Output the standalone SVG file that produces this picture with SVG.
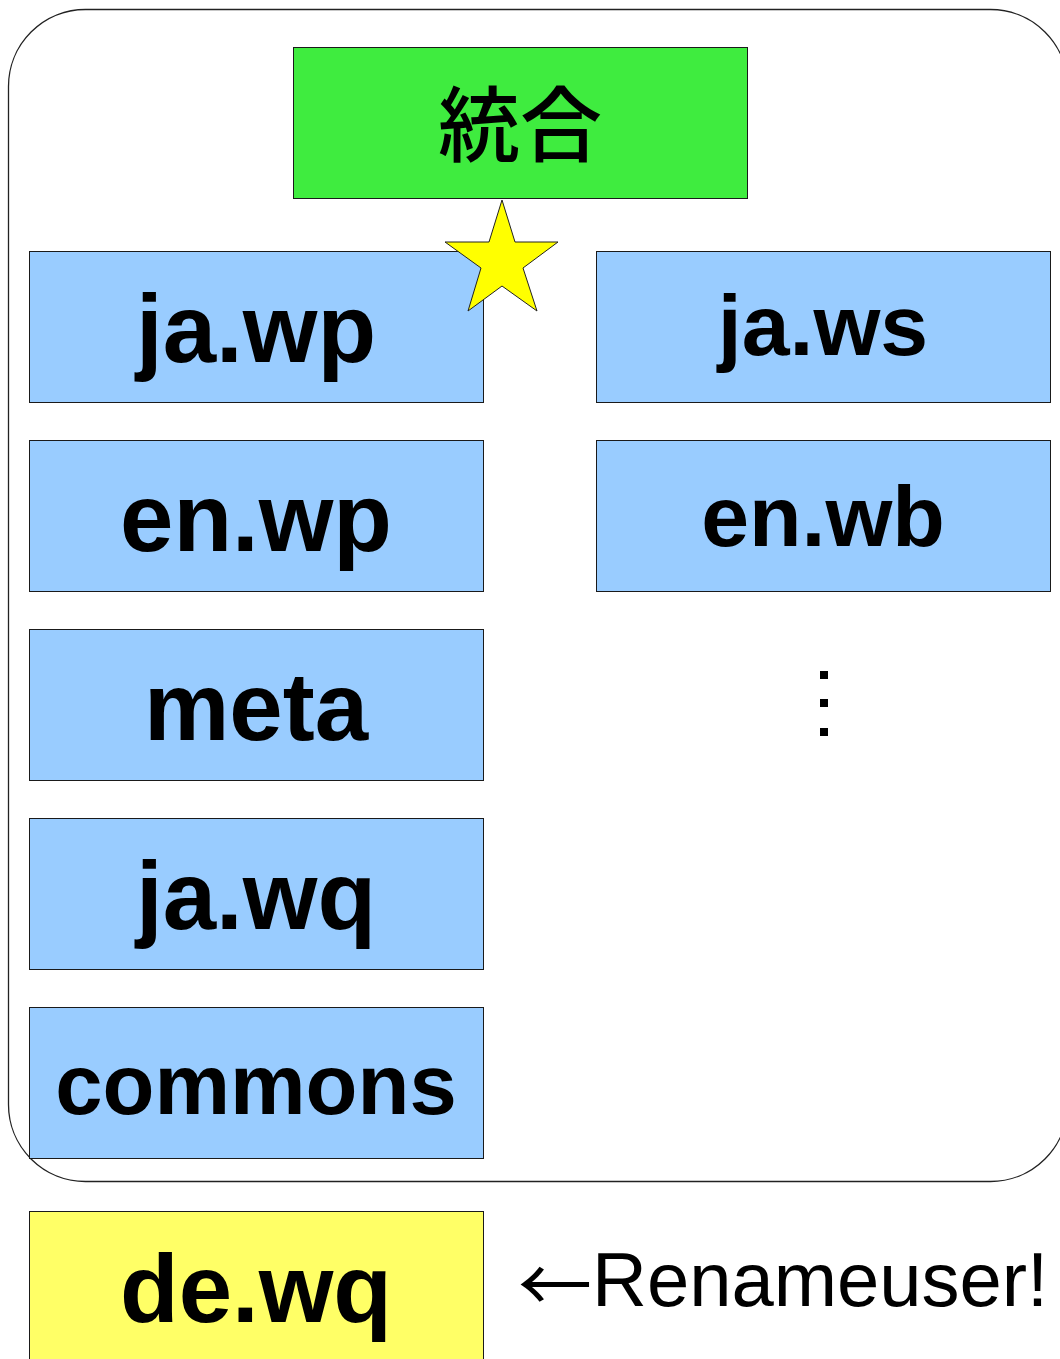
<svg xmlns="http://www.w3.org/2000/svg" width="1060" height="1359" viewBox="0 0 1060 1359">
<style>
.box{fill:#99ccff;stroke:#1a1a1a;stroke-width:1}
.lbl{font-family:"Liberation Sans",Arial,sans-serif;font-weight:bold;font-size:96px;text-anchor:middle;fill:#000}
.sm{font-size:86px}
</style>
<rect x="0" y="0" width="1060" height="1359" fill="#fff"/>
<g id="frame"><rect x="8.5" y="9.5" width="1059" height="1172" rx="77" ry="77" fill="none" stroke="#222" stroke-width="1.3"/></g>
<g id="merge"><rect x="293.5" y="47.5" width="454" height="151" fill="#3fec3f" stroke="#1a1a1a"/>
<text x="520" y="155" font-family="'Noto Sans CJK JP',sans-serif" font-size="82" font-weight="500" text-anchor="middle" fill="#000">統合</text></g>
<g id="jawp"><rect class="box" x="29.5" y="251.5" width="454" height="151"/><text class="lbl" x="256" y="362">ja.wp</text></g>
<g id="enwp"><rect class="box" x="29.5" y="440.5" width="454" height="151"/><text class="lbl" x="256" y="551">en.wp</text></g>
<g id="meta"><rect class="box" x="29.5" y="629.5" width="454" height="151"/><text class="lbl" x="256" y="740">meta</text></g>
<g id="jawq"><rect class="box" x="29.5" y="818.5" width="454" height="151"/><text class="lbl" x="256" y="929">ja.wq</text></g>
<g id="commons"><rect class="box" x="29.5" y="1007.5" width="454" height="151"/><text class="lbl" x="256" y="1114" style="font-size:85px">commons</text></g>
<g id="jaws"><rect class="box" x="596.5" y="251.5" width="454" height="151"/><text class="lbl sm" x="823" y="355">ja.ws</text></g>
<g id="enwb"><rect class="box" x="596.5" y="440.5" width="454" height="151"/><text class="lbl sm" x="823" y="546">en.wb</text></g>
<g id="dewq"><rect x="29.5" y="1211.5" width="454" height="151" fill="#ffff66" stroke="#1a1a1a"/><text class="lbl" x="256" y="1322">de.wq</text></g>
<g id="star"><polygon points="502,200 515,242 558,242 523,268 537,311 502,286 468,311 481,268 445,242 489,242" fill="#ffff00" stroke="#222" stroke-width="1"/></g>
<g id="dots"><rect x="820" y="671" width="8" height="8"/><rect x="820" y="699" width="8" height="8"/><rect x="820" y="728" width="8" height="8"/></g>
<g id="note"><text y="1306" font-family="'Liberation Sans',Arial,sans-serif" font-size="76" fill="#000"><tspan x="518" y="1312" font-family="'Noto Sans CJK JP',sans-serif" font-size="74">←</tspan><tspan x="592" y="1306">Renameuser!</tspan></text></g>
<g id="connectors"></g>
</svg>
